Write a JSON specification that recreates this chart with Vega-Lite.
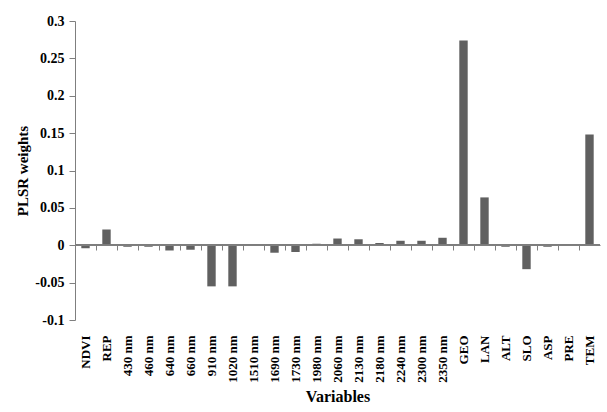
{
  "$schema": "https://vega.github.io/schema/vega-lite/v6.json",
  "width": 525,
  "height": 299,
  "autosize": {"type": "none"},
  "padding": {"left": 75, "top": 21, "right": 7, "bottom": 92},
  "background": "white",
  "config": {"view": {"stroke": null}, "font": "Liberation Serif"},
  "data": {
    "values": [
      {"v": "NDVI", "w": -0.004},
      {"v": "REP", "w": 0.021},
      {"v": "430 nm", "w": -0.002},
      {"v": "460 nm", "w": -0.002},
      {"v": "640 nm", "w": -0.007},
      {"v": "660 nm", "w": -0.006},
      {"v": "910 nm", "w": -0.055},
      {"v": "1020 nm", "w": -0.055},
      {"v": "1510 nm", "w": 0.0},
      {"v": "1690 nm", "w": -0.01},
      {"v": "1730 nm", "w": -0.009},
      {"v": "1980 nm", "w": 0.002},
      {"v": "2060 nm", "w": 0.009},
      {"v": "2130 nm", "w": 0.008},
      {"v": "2180 nm", "w": 0.003},
      {"v": "2240 nm", "w": 0.006},
      {"v": "2300 nm", "w": 0.006},
      {"v": "2350 nm", "w": 0.01},
      {"v": "GEO", "w": 0.274},
      {"v": "LAN", "w": 0.064},
      {"v": "ALT", "w": -0.002},
      {"v": "SLO", "w": -0.032},
      {"v": "ASP", "w": -0.002},
      {"v": "PRE", "w": 0.0},
      {"v": "TEM", "w": 0.148}
    ]
  },
  "layer": [
    {
      "mark": {"type": "bar", "color": "#606060"},
      "encoding": {
        "x": {
          "field": "v",
          "type": "nominal",
          "sort": null,
          "scale": {"paddingInner": 0.6, "paddingOuter": 0.3},
          "axis": {
            "orient": "bottom",
            "domain": false,
            "ticks": false,
            "labelAngle": -90,
            "labelFontSize": 13,
            "labelFontWeight": "bold",
            "labelColor": "black",
            "labelPadding": 15,
            "labelOverlap": false,
            "labelLimit": 200,
            "title": "Variables",
            "titleFontSize": 16,
            "titleFontWeight": "bold",
            "titleColor": "black",
            "titlePadding": 6
          }
        },
        "y": {
          "field": "w",
          "type": "quantitative",
          "scale": {"domain": [-0.1, 0.3], "nice": false, "zero": false},
          "axis": {
            "values": [-0.1, -0.05, 0, 0.05, 0.1, 0.15, 0.2, 0.25, 0.3],
            "labelExpr": "replace(format(datum.value, '~g'), '\u2212', '-')",
            "grid": false,
            "domain": true,
            "ticks": true,
            "zindex": 1,
            "domainColor": "#7f7f7f",
            "domainWidth": 1,
            "domainOpacity": 1,
            "tickColor": "#7f7f7f",
            "tickWidth": 1,
            "tickOpacity": 1,
            "tickSize": 6,
            "labelPadding": 5,
            "labelFontSize": 14,
            "labelFontWeight": "bold",
            "labelColor": "black",
            "title": "PLSR weights",
            "titleFontSize": 15,
            "titleFontWeight": "bold",
            "titleColor": "black",
            "titlePadding": 4
          }
        }
      }
    },
    {
      "mark": {"type": "bar", "opacity": 0},
      "encoding": {
        "x": {
          "field": "v",
          "type": "nominal",
          "sort": null,
          "axis": {
            "orient": "bottom",
            "offset": -75,
            "labels": false,
            "title": null,
            "domain": true,
            "ticks": true,
            "zindex": 1,
            "domainColor": "#7f7f7f",
            "domainWidth": 1,
            "domainOpacity": 1,
            "tickColor": "#7f7f7f",
            "tickWidth": 1,
            "tickOpacity": 1,
            "tickSize": 5,
            "bandPosition": -0.75
          }
        },
        "y": {"field": "w", "type": "quantitative", "axis": null}
      }
    },
    {
      "mark": {"type": "rule", "color": "#7f7f7f", "strokeWidth": 1},
      "encoding": {"y": {"datum": 0, "axis": null}}
    }
  ],
  "resolve": {"axis": {"x": "independent", "y": "independent"}}
}
